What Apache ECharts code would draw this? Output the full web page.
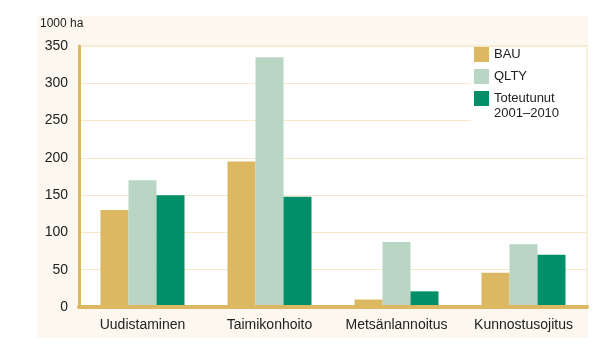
<!DOCTYPE html>
<html>
<head>
<meta charset="utf-8">
<script src="https://cdn.jsdelivr.net/npm/echarts@6/dist/echarts.min.js"></script>
<style>
html,body{margin:0;padding:0;background:#fff;}
#panel{position:absolute;left:37px;top:16px;width:551px;height:322px;background:#fcf8ef;}
#chart{position:absolute;left:0;top:0;width:596px;height:344px;}
</style>
</head>
<body>
<div id="panel"></div>
<div id="chart"></div>
<script>
const categories = ['Uudistaminen', 'Taimikonhoito', 'Metsänlannoitus', 'Kunnostusojitus'];
const seriesNames = ['BAU', 'QLTY', 'Toteutunut 2001–2010'];
const bauValues = [130, 195, 10, 46];
const qltyValues = [170, 335, 87, 84];
const toteutunutValues = [150, 148, 21, 70];
const yTicks = [0, 50, 100, 150, 200, 250, 300, 350];
const unitLabel = '1000 ha';

const colors = ['#dcb862', '#b9d5c4', '#008f68'];
const font = '"Liberation Sans", Arial, sans-serif';

const chart = echarts.init(document.getElementById('chart'), null, {renderer: 'canvas'});
const dataSets = [bauValues, qltyValues, toteutunutValues];
const legendText = {fontFamily: font, fontSize: 13, color: '#222'};
chart.setOption({
  backgroundColor: 'transparent',
  animation: false,
  title: {
    text: unitLabel, left: 40, top: 18, padding: 0,
    textStyle: {fontFamily: font, fontSize: 12, fontWeight: 'normal', color: '#222'}
  },
  graphic: [{
    type: 'rect', z: 3, silent: true,
    shape: {x: 471, y: 47, width: 115, height: 78},
    style: {fill: '#ffffff'}
  }],
  grid: {
    left: 79, right: 9, top: 46, bottom: 37,
    show: true, backgroundColor: '#ffffff', borderColor: '#f3e6c6', borderWidth: 1
  },
  legend: [{
    orient: 'vertical', left: 474, top: 47, padding: 0,
    itemWidth: 15, itemHeight: 15, itemGap: 7, icon: 'rect',
    textStyle: legendText,
    data: [seriesNames[0], seriesNames[1]]
  }, {
    orient: 'vertical', left: 474, top: 76, padding: 0,
    itemWidth: 15, itemHeight: 15, icon: 'rect',
    textStyle: Object.assign({}, legendText, {lineHeight: 15}),
    data: [seriesNames[2]],
    formatter: function () { return '\nToteutunut\n2001–2010'; }
  }],
  xAxis: {
    type: 'category', data: categories, z: 5,
    axisLine: {show: true, lineStyle: {color: '#dcb862', width: 4}},
    axisTick: {show: false},
    axisLabel: {fontFamily: font, fontSize: 14, color: '#222', margin: 11, interval: 0}
  },
  yAxis: {
    type: 'value', min: yTicks[0], max: yTicks[yTicks.length - 1], interval: 50,
    axisLine: {show: true, lineStyle: {color: '#dcb862', width: 3}},
    axisTick: {show: false},
    splitLine: {lineStyle: {color: '#f6e8c8', width: 1}},
    axisLabel: {fontFamily: font, fontSize: 14, color: '#222', margin: 11}
  },
  series: seriesNames.map((n, i) => ({
    name: n, type: 'bar', data: dataSets[i], barWidth: 28, barGap: '0%',
    itemStyle: {color: colors[i]}
  }))
});
</script>
</body>
</html>
